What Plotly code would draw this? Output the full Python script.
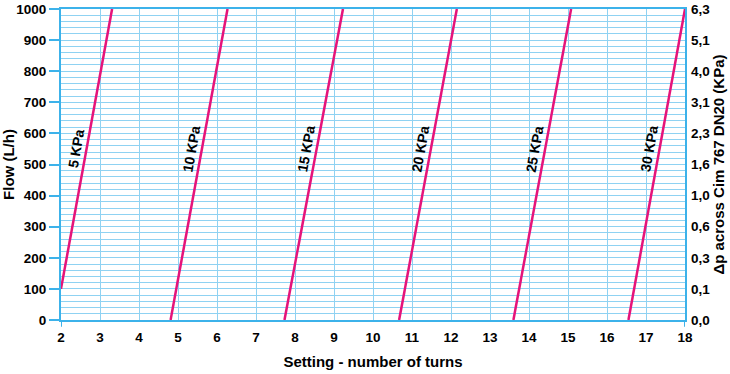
import plotly.graph_objects as go

# ---- data ----
curve_labels = ["5 KPa", "10 KPa", "15 KPa", "20 KPa", "25 KPa", "30 KPa"]
turns_start = [2.00, 4.81, 7.73, 10.67, 13.60, 16.55]
flow_start = [100, 0, 0, 0, 0, 0]
turns_end = [3.31, 6.27, 9.23, 12.15, 15.08, 18.00]
flow_end = [1000, 1000, 1000, 1000, 1000, 1000]

flow_ticks = [0, 100, 200, 300, 400, 500, 600, 700, 800, 900, 1000]
dp_ticktext = ["0,0", "0,1", "0,3", "0,6", "1,0", "1,6", "2,3", "3,1", "4,0", "5,1", "6,3"]
turn_ticks = list(range(2, 19))

label_flow = 550
label_shift = 0.27

LINE = "#e5147a"
AXIS = "#3cb2ea"
GRID = "#8fd2f2"
FONT = "Liberation Sans"

fig = go.Figure()
for lab, x0, y0, x1, y1 in zip(curve_labels, turns_start, flow_start, turns_end, flow_end):
    fig.add_trace(go.Scatter(x=[x0, x1], y=[y0, y1], mode="lines",
                             line=dict(color=LINE, width=2.5), showlegend=False,
                             hoverinfo="skip"))
    t = (label_flow - y0) / (y1 - y0)
    xl = x0 + t * (x1 - x0) - label_shift
    fig.add_annotation(x=xl, y=label_flow, text=f"<b>{lab}</b>", showarrow=False,
                       textangle=-80, font=dict(family=FONT, size=14, color="black"))

fig.add_trace(go.Scatter(x=[2], y=[0], yaxis="y2", mode="markers",
                         marker=dict(opacity=0), showlegend=False, hoverinfo="skip"))

fig.update_layout(
    width=730, height=374,
    margin=dict(l=61, r=45, t=9, b=54, autoexpand=False),
    plot_bgcolor="white", paper_bgcolor="white",
    font=dict(family=FONT, size=13.5, color="black"),
    xaxis=dict(range=[2, 18], tickvals=turn_ticks,
               ticktext=[f"<b>{v}</b>" for v in turn_ticks],
               showgrid=True, gridcolor=GRID, gridwidth=1,
               showline=True, linecolor=AXIS, linewidth=2, mirror=True,
               ticks="", zeroline=False, automargin=False, ticklabelstandoff=4,
               title=dict(text="<b>Setting - number of turns</b>",
                          font=dict(size=15), standoff=12)),
    yaxis=dict(range=[0, 1000], tickvals=flow_ticks,
               ticktext=[f"<b>{v}</b>" for v in flow_ticks],
               showgrid=True, gridcolor=GRID, gridwidth=1,
               minor=dict(dtick=20, showgrid=True, gridcolor=GRID, gridwidth=1),
               showline=True, linecolor=AXIS, linewidth=2, mirror=True,
               ticks="outside", ticklen=10, tickwidth=2, tickcolor=AXIS,
               zeroline=False, automargin=False,
               title=dict(text="<b>Flow (L/h)</b>", font=dict(size=15), standoff=2)),
    yaxis2=dict(range=[0, 1000], overlaying="y", side="right",
                tickvals=flow_ticks, ticktext=[f"<b>{t}</b>" for t in dp_ticktext],
                showgrid=False, zeroline=False, showline=False, ticks="",
                automargin=False, ticklabelstandoff=5,
                title=dict(text="<b>Δp across Cim 767 DN20 (KPa)</b>",
                           font=dict(size=15), standoff=2)),
)

for xv in (2, 18):
    fig.add_shape(type="line", xref="x", yref="paper", x0=xv, x1=xv, y0=0, y1=-0.022,
                  line=dict(color=AXIS, width=2))

fig.write_html("out.html")
